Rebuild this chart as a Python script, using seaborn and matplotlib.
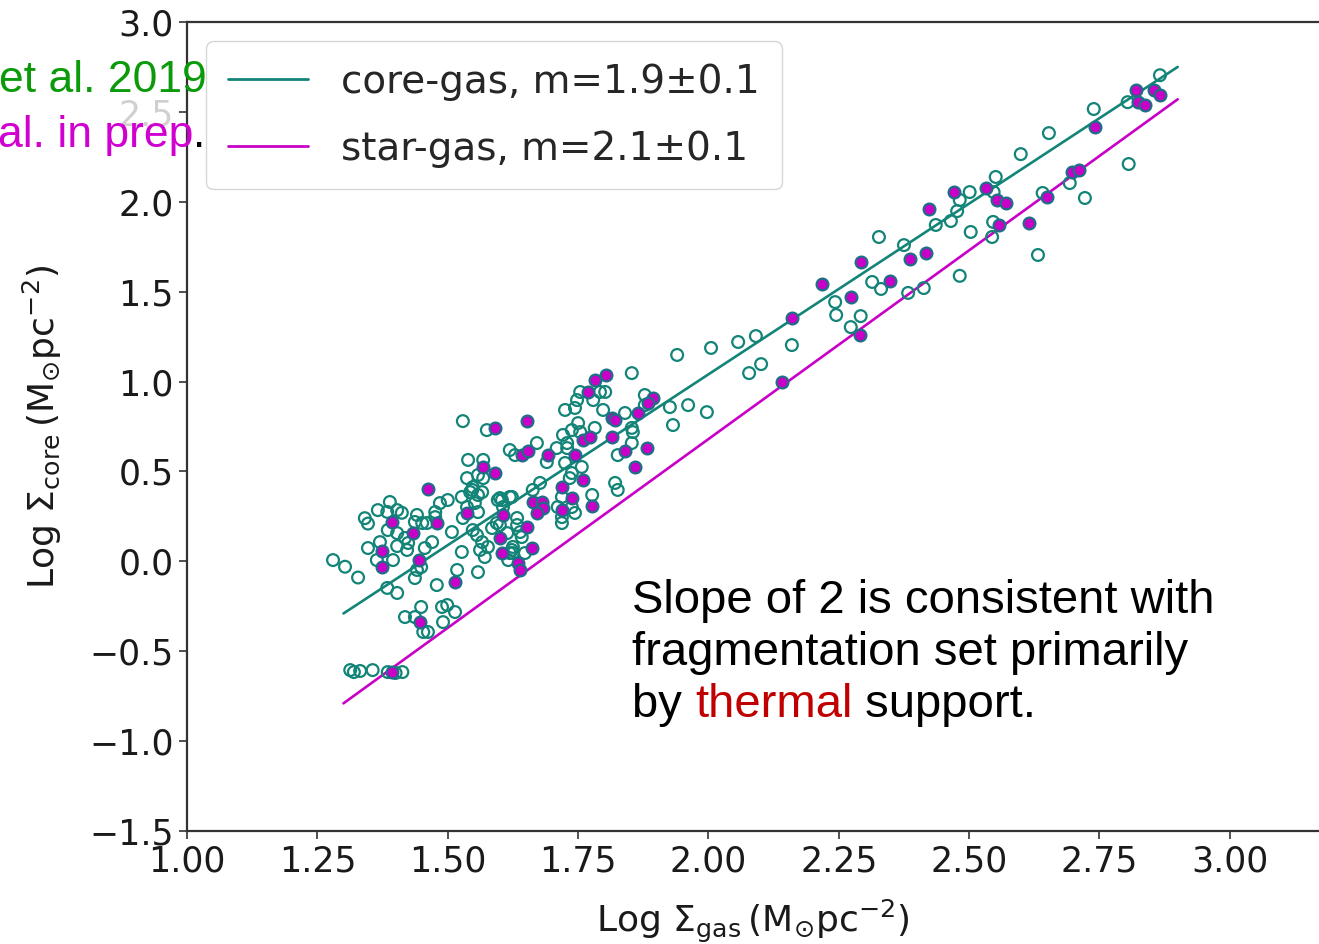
import numpy as np
import pandas as pd
import seaborn as sns
import matplotlib
matplotlib.use("Agg")
import matplotlib.pyplot as plt

# core points (open teal circles): log Sigma_gas, log Sigma_core
core_x = [1.280, 1.303, 1.328, 1.341, 1.347, 1.366, 1.389, 1.384, 1.403, 1.412,
          1.347, 1.370, 1.395, 1.364, 1.403, 1.385, 1.384, 1.403, 1.403, 1.424,
          1.422, 1.441, 1.437, 1.451, 1.460, 1.418, 1.441, 1.437, 1.449, 1.456,
          1.470, 1.476, 1.485, 1.500, 1.476, 1.508, 1.479, 1.449, 1.418, 1.437,
          1.453, 1.462, 1.489, 1.499, 1.514, 1.491, 1.518, 1.527, 1.527, 1.547,
          1.552, 1.558, 1.558, 1.537, 1.558, 1.568, 1.566, 1.548, 1.556, 1.558,
          1.562, 1.571, 1.577, 1.596, 1.600, 1.623, 1.616, 1.529, 1.575, 1.539,
          1.568, 1.548, 1.543, 1.537, 1.529, 1.600, 1.619, 1.606, 1.594, 1.585,
          1.566, 1.633, 1.642, 1.625, 1.619, 1.619, 1.629, 1.671, 1.709, 1.729,
          1.690, 1.725, 1.757, 1.738, 1.734, 1.821, 1.826, 1.777, 1.677, 1.663,
          1.719, 1.711, 1.738, 1.744, 1.719, 1.719, 1.623, 1.604, 1.633, 1.639,
          1.614, 1.625, 1.648, 1.721, 1.738, 1.750, 1.754, 1.782, 1.729, 1.725,
          1.744, 1.754, 1.748, 1.779, 1.792, 1.802, 1.853, 1.840, 1.798, 1.853,
          1.855, 1.853, 1.826, 1.878, 1.926, 1.961, 1.997, 1.932, 1.878, 1.940,
          2.005, 2.057, 2.091, 2.160, 2.078, 2.101, 2.243, 2.245, 2.273, 2.292,
          2.314, 2.331, 2.327, 2.375, 2.383, 2.413, 2.436, 2.465, 2.477, 2.482,
          2.501, 2.547, 2.551, 2.503, 2.546, 2.544, 2.482, 2.599, 2.653, 2.739,
          2.641, 2.693, 2.722, 2.632, 2.806, 2.804, 2.866,
          1.313, 1.320, 1.332, 1.356, 1.385, 1.400, 1.413]
core_y = [0.007, -0.030, -0.090, 0.240, 0.210, 0.285, 0.330, 0.275, 0.285, 0.270,
          0.074, 0.107, 0.007, 0.007, 0.157, 0.174, -0.148, -0.176, 0.085, 0.102,
          0.063, 0.258, 0.219, 0.213, 0.213, 0.130, -0.048, -0.093, -0.032, 0.074,
          0.107, 0.274, 0.324, 0.341, 0.246, 0.163, -0.132, -0.254, -0.310, -0.310,
          -0.393, -0.393, -0.254, -0.243, -0.282, -0.338, -0.048, 0.052, 0.358, 0.397,
          0.324, 0.369, 0.274, 0.463, 0.480, 0.463, 0.385, 0.174, 0.146, -0.060,
          0.063, 0.024, 0.080, 0.341, 0.202, 0.063, 0.007, 0.780, 0.730, 0.564,
          0.564, 0.413, 0.385, 0.302, 0.241, 0.352, 0.358, 0.302, 0.213, 0.185,
          0.107, 0.202, 0.135, 0.080, 0.046, 0.619, 0.591, 0.658, 0.630, 0.630,
          0.552, 0.547, 0.525, 0.491, 0.463, 0.436, 0.397, 0.369, 0.436, 0.397,
          0.358, 0.302, 0.302, 0.269, 0.246, 0.213, 0.358, 0.341, 0.241, 0.163,
          0.157, 0.046, 0.046, 0.703, 0.730, 0.769, 0.719, 0.742, 0.658, 0.842,
          0.853, 0.942, 0.897, 0.897, 0.942, 0.942, 1.047, 0.825, 0.842, 0.742,
          0.719, 0.658, 0.591, 0.925, 0.858, 0.869, 0.830, 0.758, 0.869, 1.148,
          1.187, 1.220, 1.253, 1.203, 1.047, 1.097, 1.442, 1.370, 1.303, 1.364,
          1.554, 1.515, 1.804, 1.759, 1.493, 1.520, 1.871, 1.893, 1.948, 2.010,
          2.054, 2.054, 2.138, 1.832, 1.888, 1.804, 1.588, 2.265, 2.382, 2.516,
          2.049, 2.104, 2.021, 1.704, 2.210, 2.554, 2.704,
          -0.605, -0.616, -0.610, -0.605, -0.616, -0.621, -0.616]

# star points (filled magenta)
star_x = [1.393, 1.374, 1.374, 1.433, 1.445, 1.462, 1.479, 1.447, 1.514, 1.537,
          1.591, 1.606, 1.600, 1.604, 1.591, 1.568, 1.652, 1.642, 1.654, 1.692,
          1.744, 1.759, 1.777, 1.719, 1.719, 1.738, 1.663, 1.681, 1.683, 1.671,
          1.652, 1.662, 1.635, 1.639, 1.759, 1.773, 1.769, 1.782, 1.803, 1.815,
          1.821, 1.815, 1.840, 1.882, 1.859, 1.865, 1.894, 1.884, 2.160, 2.141,
          2.218, 2.273, 2.291, 2.348, 2.292, 2.386, 2.417, 2.423, 2.471, 2.532,
          2.553, 2.570, 2.557, 2.615, 2.649, 2.697, 2.710, 2.741, 2.820, 2.824,
          2.837, 2.854, 2.866, 1.393]
star_y = [0.219, 0.057, -0.032, 0.157, 0.007, 0.402, 0.213, -0.338, -0.115, 0.269,
          0.491, 0.258, 0.130, 0.046, 0.742, 0.525, 0.780, 0.591, 0.614, 0.591,
          0.591, 0.452, 0.308, 0.413, 0.285, 0.352, 0.330, 0.330, 0.296, 0.269,
          0.191, 0.074, -0.009, -0.048, 0.675, 0.691, 0.942, 1.008, 1.036, 0.797,
          0.786, 0.691, 0.614, 0.630, 0.525, 0.825, 0.908, 0.880, 1.353, 0.998,
          1.543, 1.470, 1.259, 1.560, 1.665, 1.682, 1.715, 1.959, 2.054, 2.077,
          2.010, 1.993, 1.871, 1.882, 2.027, 2.165, 2.177, 2.416, 2.621, 2.554,
          2.538, 2.621, 2.593, -0.616]

# power-law fits: slope, intercept over fitted range
fit_range = [1.3, 2.9]
core_fit = (1.9, -2.76)
star_fit = (2.1, -3.52)
core_label = "core-gas, m=1.9\u00b10.1"
star_label = "star-gas, m=2.1\u00b10.1"

teal = "#138478"
magenta = "#c800c8"

sns.set_style("ticks")
plt.rcParams["mathtext.fontset"] = "dejavusans"

fig = plt.figure(figsize=(13.19, 9.44), dpi=100)
ax = fig.add_axes([0.1418, 0.1197, 0.8582, 0.857])

fx = np.array(fit_range)
fits = pd.DataFrame({
    "x": np.concatenate([fx, fx]),
    "y": np.concatenate([core_fit[0] * fx + core_fit[1], star_fit[0] * fx + star_fit[1]]),
    "fit": [core_label] * 2 + [star_label] * 2,
})
sns.lineplot(data=fits, x="x", y="y", hue="fit", palette=[teal, magenta],
             linewidth=1.9, ax=ax, zorder=2)

sns.scatterplot(x=core_x, y=core_y, ax=ax, s=72, facecolors="none",
                edgecolors=teal, linewidth=1.6, zorder=3, legend=False)
sns.scatterplot(x=star_x, y=star_y, ax=ax, s=72, color=magenta,
                edgecolor="#1e6f86", linewidth=1.6, zorder=4, legend=False)

ax.set_xlim(1.0, 3.171)
ax.set_ylim(-1.5, 3.0)
ax.set_xticks([1.0, 1.25, 1.5, 1.75, 2.0, 2.25, 2.5, 2.75, 3.0])
ax.set_yticks([-1.5, -1.0, -0.5, 0.0, 0.5, 1.0, 1.5, 2.0, 2.5, 3.0])
fmt = matplotlib.ticker.FuncFormatter
ax.xaxis.set_major_formatter(fmt(lambda v, p: f"{v:.2f}".replace("-", "\u2212")))
ax.yaxis.set_major_formatter(fmt(lambda v, p: f"{v:.1f}".replace("-", "\u2212")))
ax.tick_params(labelsize=25, length=6, width=1.2, color="#333333", labelcolor="#1a1a1a")
fig.canvas.draw()
for lab in ax.get_yticklabels():
    if lab.get_text() == "2.5":
        lab.set_color("#d0d0d0")
ax.spines["right"].set_visible(False)
for s in ["left", "bottom", "top"]:
    ax.spines[s].set_linewidth(1.6)
    ax.spines[s].set_color("#333333")

ax.set_xlabel(r"Log $\Sigma_{\rm gas}\,(\rm M_{\odot}pc^{-2})$", fontsize=26,
              labelpad=14, color="#1a1a1a")
ax.set_ylabel(r"Log $\Sigma_{\rm core}\,(\rm M_{\odot}pc^{-2})$", fontsize=26,
              labelpad=18, color="#1a1a1a")

leg = ax.legend(loc="upper left", fontsize=28, handlelength=2.05,
                labelspacing=0.75, borderpad=0.55, handletextpad=0.87)
for line in leg.get_lines():
    line.set_linewidth(2.0)

# slide overlay text
fig.text(207 / 1319, 1 - 92 / 944, "et al. 2019", color="#0a9a0a",
         fontsize=32, family="Liberation Sans", ha="right", va="baseline")
fig.text(193 / 1319, 1 - 147 / 944, "al. in prep", color="#d000d0",
         fontsize=32, family="Liberation Sans", ha="right", va="baseline")
fig.text(193 / 1319, 1 - 147 / 944, ".", color="black",
         fontsize=32, family="Liberation Sans", ha="left", va="baseline")

x0 = 632 / 1319
tkw = dict(fontsize=34, family="Liberation Sans", va="baseline", ha="left")
fig.text(x0, 1 - 613 / 944, "Slope of 2 is consistent with", color="black", **tkw)
fig.text(x0, 1 - 665 / 944, "fragmentation set primarily", color="black", **tkw)
fig.canvas.draw()
renderer = fig.canvas.get_renderer()
xpos = x0
for word, col in [("by ", "black"), ("thermal", "#c00000"), (" support.", "black")]:
    t = fig.text(xpos, 1 - 717 / 944, word, color=col, **tkw)
    bb = t.get_window_extent(renderer=renderer)
    xpos = fig.transFigure.inverted().transform((bb.x1, 0))[0]

fig.savefig("out.png", dpi=100)
